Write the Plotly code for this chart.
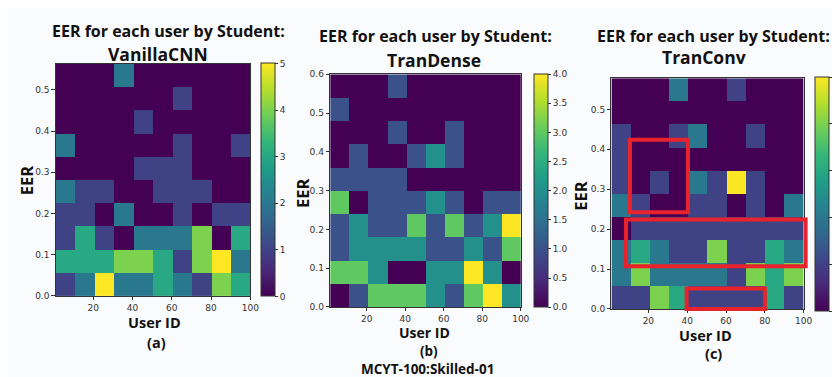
import numpy as np
import plotly.graph_objects as go

W, H = 840, 377

# User-ID axis: 100 users, 10 bins
user_min, user_max = 1, 100
x_ticks = [20, 40, 60, 80, 100]

# Counts per (EER bin, user bin); rows listed from TOP EER bin to bottom
vanilla_counts = [
    [0, 0, 0, 2, 0, 0, 0, 0, 0, 0],
    [0, 0, 0, 0, 0, 0, 1, 0, 0, 0],
    [0, 0, 0, 0, 1, 0, 0, 0, 0, 0],
    [2, 0, 0, 0, 0, 0, 1, 0, 0, 1],
    [0, 0, 0, 0, 1, 1, 1, 0, 0, 0],
    [2, 1, 1, 0, 0, 1, 1, 1, 0, 0],
    [1, 1, 0, 2, 0, 0, 1, 0, 1, 1],
    [1, 3, 1, 0, 2, 2, 2, 4, 0, 3],
    [3, 3, 3, 4, 4, 3, 1, 4, 5, 2],
    [1, 2, 5, 2, 2, 3, 2, 1, 4, 3],
]
trandense_counts = [
    [0, 0, 0, 1, 0, 0, 0, 0, 0, 0],
    [1, 0, 0, 0, 0, 0, 0, 0, 0, 0],
    [0, 0, 0, 1, 0, 0, 1, 0, 0, 0],
    [0, 1, 0, 0, 1, 2, 1, 0, 0, 0],
    [1, 1, 1, 1, 0, 0, 0, 0, 0, 0],
    [3, 0, 1, 1, 1, 2, 1, 0, 1, 1],
    [1, 2, 1, 1, 3, 1, 3, 1, 2, 4],
    [1, 2, 2, 2, 2, 1, 1, 2, 1, 3],
    [3, 3, 2, 0, 0, 2, 2, 4, 2, 0],
    [0, 1, 3, 3, 3, 2, 1, 3, 4, 2],
]
tranconv_counts = [
    [0, 0, 0, 2, 0, 0, 1, 0, 0, 0],
    [0, 0, 0, 0, 0, 0, 0, 0, 0, 0],
    [1, 0, 0, 1, 2, 0, 0, 1, 0, 0],
    [1, 0, 0, 0, 0, 0, 0, 0, 0, 0],
    [1, 0, 1, 0, 2, 1, 5, 1, 0, 0],
    [2, 1, 0, 0, 1, 1, 0, 1, 0, 2],
    [0, 1, 1, 1, 1, 1, 1, 1, 1, 1],
    [2, 3, 2, 1, 1, 4, 1, 1, 3, 2],
    [2, 4, 2, 2, 2, 2, 1, 4, 3, 4],
    [1, 1, 4, 3, 1, 1, 1, 1, 3, 1],
]

# Max EER (top of each EER axis)
eer_max = [0.563, 0.6, 0.578]
eer_ticks = [[0.0, 0.1, 0.2, 0.3, 0.4, 0.5],
             [0.0, 0.1, 0.2, 0.3, 0.4, 0.5, 0.6],
             [0.0, 0.1, 0.2, 0.3, 0.4, 0.5]]
cbar_max = [5, 4, 5]
cbar_ticks = [[0, 1, 2, 3, 4, 5],
              [0, 0.5, 1, 1.5, 2, 2.5, 3, 3.5, 4],
              [0, 1, 2, 3, 4, 5]]
cbar_fmt = ["d", ".1f", "d"]
model_names = ["VanillaCNN", "TranDense", "TranConv"]
panel_tags = ["(a)", "(b)", "(c)"]

# Highlight boxes on TranConv (user range, EER range)
boxes = [
    (10.5, 40.4, 0.242, 0.424),
    (8.5, 101.0, 0.107, 0.224),
    (39.7, 80.0, 0.0, 0.051),
]

# ---- layout geometry (pixels) ----
plot_px = [  # left, right, top, bottom
    (48.3, 245.0, 52.3, 290.7),
    (325.7, 518.3, 63.0, 302.0),
    (610.0, 804.3, 67.0, 304.0),
]
cbar_px = [  # left, top, bottom
    (256, 52, 291),
    (532, 63, 302),
    (816, 66, 306),
]

fig = go.Figure()
all_counts = [vanilla_counts, trandense_counts, tranconv_counts]
tick_font = dict(family="DejaVu Sans", size=9, color="#333333")

for i in range(3):
    z = np.array(all_counts[i])[::-1]
    xe = np.linspace(user_min, user_max, 11)
    ye = np.linspace(0, eer_max[i], 11)
    sfx = "" if i == 0 else str(i + 1)
    cl, ct, cb = cbar_px[i]
    fig.add_trace(go.Heatmap(
        z=z, x=xe, y=ye, xaxis="x" + sfx, yaxis="y" + sfx,
        colorscale="Viridis", zmin=0, zmax=cbar_max[i],
        colorbar=dict(
            x=cl / W, xanchor="left", xpad=0, ypad=0,
            y=1 - (ct + cb) / 2 / H, yanchor="middle",
            len=(cb - ct) / H, lenmode="fraction",
            thickness=14, outlinewidth=1, outlinecolor="#333333",
            tickvals=cbar_ticks[i], tickformat=cbar_fmt[i],
            ticks="outside", ticklen=3, tickcolor="#333333",
            tickfont=tick_font,
        ),
        hoverinfo="skip",
    ))
    l, r, t, b = plot_px[i]
    fig.update_layout(**{
        "xaxis" + sfx: dict(
            domain=[l / W, r / W], range=[user_min, user_max],
            anchor="y" + sfx, tickvals=x_ticks, ticks="outside",
            ticklen=3.5, tickcolor="#333333", tickfont=tick_font,
            showline=True, linecolor="#333333", linewidth=1, mirror=True,
            showgrid=False, zeroline=False,
        ),
        "yaxis" + sfx: dict(
            domain=[1 - b / H, 1 - t / H], range=[0, eer_max[i]],
            anchor="x" + sfx, tickvals=eer_ticks[i], tickformat=".1f",
            ticks="outside", ticklen=3.5, tickcolor="#333333",
            tickfont=tick_font,
            showline=True, linecolor="#333333", linewidth=1, mirror=True,
            showgrid=False, zeroline=False,
        ),
    })

# highlight rectangles (converted to axis-domain fractions)
for (x0, x1, y0, y1) in boxes:
    fx = lambda v: (v - user_min) / (user_max - user_min)
    fy = lambda v: v / eer_max[2]
    fig.add_shape(type="rect", xref="x3 domain", yref="y3 domain",
                  x0=fx(x0), x1=fx(x1), y0=fy(y0), y1=fy(y1),
                  line=dict(color="#e8232b", width=4), fillcolor="rgba(0,0,0,0)")

FONT = "Open Sans"
def txt(s, x, y, size, angle=0):
    fig.add_annotation(text="<b>" + s + "</b>", x=x / W, y=1 - y / H,
                       xref="paper", yref="paper", showarrow=False,
                       xanchor="center", yanchor="middle", textangle=angle,
                       borderpad=0,
                       font=dict(family=FONT, size=size, color="#111111"))

title1 = "EER for each user by Student:"
title_pos = [(162, 19, 152, 42), (432, 24, 431, 48), (713, 24, 704, 45)]
label_pos = [(148, 318, 150, 338, 19, 172), (421, 328.5, 426, 347, 297, 185),
             (705, 331, 713, 350, 578, 188)]
uid_sizes = [14.5, 14, 14.5]
tag_sizes = [14.5, 13.5, 14.5]
for i in range(3):
    a, b_, c, d = title_pos[i]
    txt(title1, a, b_, 16)
    txt(model_names[i], c, d, 17.5)
    ux, uy, px, py, ex, ey = label_pos[i]
    txt("User ID", ux, uy, uid_sizes[i])
    txt(panel_tags[i], px, py, tag_sizes[i])
    txt("EER", ex, ey, 16.5, angle=-90)
txt("MCYT-100:Skilled-01", 424, 365.3, 13.5)

fig.update_layout(width=W, height=H, margin=dict(l=0, r=0, t=0, b=0),
                  paper_bgcolor="#fafbfc", plot_bgcolor="#fafbfc",
                  showlegend=False)
fig.write_html("out.html")
